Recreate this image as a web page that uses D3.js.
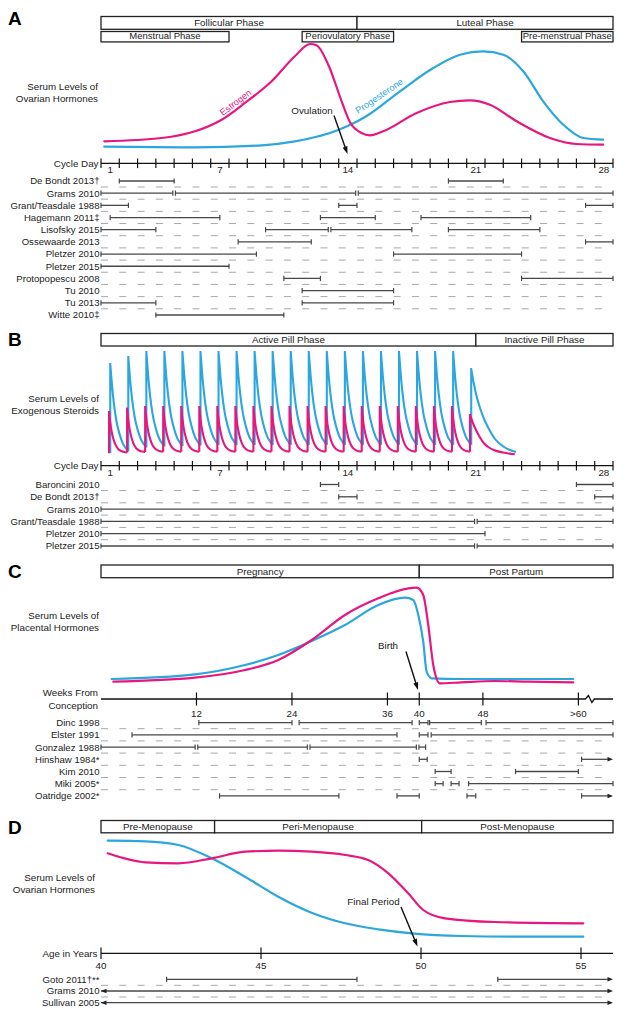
<!DOCTYPE html>
<html><head><meta charset="utf-8">
<script src="https://cdn.jsdelivr.net/npm/d3@7"></script>
<style>
body{margin:0;background:#fff}
text{font-family:"Liberation Sans",Arial,Helvetica,sans-serif;fill:#222}
</style></head>
<body><svg id="chart" width="623" height="1016"></svg>
<script>
// ---------------- DATA ----------------
const cycleDayLabels = [1, 7, 14, 21, 28];
const weekTicks = [12, 24, 36, 40, 48, 60];
const weekTickLabels = ["12", "24", "36", "40", "48", ">60"];
const ageTicks = [40, 45, 50, 55];

// Panel A : menstrual cycle (day units 0..28)
const phasesA1 = [["Follicular Phase", 0, 14], ["Luteal Phase", 14, 28]];
const phasesA2 = [["Menstrual Phase", 0, 7], ["Periovulatory Phase", 11, 16], ["Pre-menstrual Phase", 23, 28]];
const estrogenA_day = [0.18, 3.32, 5.14, 6.6, 7.87, 9.33, 10.6, 11.43, 11.79, 12.43, 13.16, 13.61, 14.25, 14.71, 15.43, 17.26, 19.08, 20.17, 21.27, 22.73, 24.55, 26.0, 27.46];
const estrogenA_lvl = [8.7, 12, 18.7, 30.3, 47, 68.7, 93.7, 106, 104.7, 85.3, 48.7, 28, 17, 14.7, 18.7, 37, 48, 49.7, 45.3, 28.7, 12, 6, 5.3];
const progesteroneA_day = [0.18, 5.14, 8.79, 10.6, 11.5, 12.43, 13.61, 14.53, 16.35, 18.17, 19.63, 20.9, 22.0, 23.09, 24.18, 25.28, 26.37, 27.46];
const progesteroneA_lvl = [3.3, 2.7, 4.7, 8.7, 12, 16.5, 25, 34, 58.7, 82, 95.3, 98.7, 95.3, 78.7, 48.7, 25.3, 12, 10.3];
const studiesA = ["De Bondt 2013†", "Grams 2010", "Grant/Teasdale 1988", "Hagemann 2011‡", "Lisofsky 2015", "Ossewaarde 2013", "Pletzer 2010", "Pletzer 2015", "Protopopescu 2008", "Tu 2010", "Tu 2013", "Witte 2010‡"];
const rangesA = [
  [[1, 4], [19, 22]],
  [[0, 4], [4, 14], [14, 28]],
  [[0, 1.5], [13, 14], [26.5, 28]],
  [[0.5, 6.5], [12, 15], [17.5, 23.5]],
  [[0, 3], [9, 12.5], [12.5, 17], [19, 24]],
  [[7.5, 11.5], [26.5, 28]],
  [[0, 8.5], [16, 23]],
  [[0, 7]],
  [[10, 12], [23, 28]],
  [[11, 16]],
  [[0, 3], [11, 16]],
  [[3, 10]]
];

// Panel B : oral contraceptive cycle
const phasesB = [["Active Pill Phase", 0, 20.5], ["Inactive Pill Phase", 20.5, 28]];
const pillDays = [1, 2, 3, 4, 5, 6, 7, 8, 9, 10, 11, 12, 13, 14, 15, 16, 17, 18, 19, 20, 21];
const progestinPeaksB = [91, 98, 103, 103, 103, 103, 103, 103, 103, 103, 103, 103, 103, 103, 103, 103, 103, 103, 103, 103, 86];
const progestinTroughsB = [2, 3.5, 7.5, 8.5, 9, 9.5, 10, 10, 10, 10, 10, 10, 10, 10, 10, 10, 10, 10, 10, 10, 10];
const estrogenPeaksB = [43, 46.5, 48, 48, 48, 48, 48, 48, 48, 48, 48, 48, 48, 48, 48, 48, 48, 48, 48, 48, 40];
const estrogenTroughsB = [1.7, 2.5, 3, 3.3, 3.3, 3.3, 3.3, 3.3, 3.3, 3.3, 3.3, 3.3, 3.3, 3.3, 3.3, 3.3, 3.3, 3.3, 3.3, 3.3, 3.3];
const decayFrac = [0, 0.1, 0.2, 0.35, 0.5, 0.7, 0.85, 1];
const progestinDecay = [1, 0.75, 0.55, 0.34, 0.21, 0.09, 0.04, 0];
const estrogenDecay = [1, 0.63, 0.4, 0.2, 0.09, 0.03, 0.01, 0];
const washoutDays = [0, 0.25, 0.5, 0.75, 1, 1.3, 1.8, 2.45];
const progestinWashout = [86, 62, 46, 34, 25, 16, 8, 3];
const estrogenWashout = [40, 28, 19, 12, 8, 5, 2.5, 0.7];
const studiesB = ["Baroncini 2010", "De Bondt 2013†", "Grams 2010", "Grant/Teasdale 1988", "Pletzer 2010", "Pletzer 2015"];
const rangesB = [
  [[12, 13], [26, 28]],
  [[13, 14], [27, 28]],
  [[0, 28]],
  [[0, 20.5], [20.5, 28]],
  [[0, 21]],
  [[0, 20.5], [20.5, 28]]
];

// Panel C : pregnancy (weeks from conception)
const phasesC = [["Pregnancy", 0, 40], ["Post Partum", 40, 64.35]];
const estrogenC_wk = [1.55, 11.81, 18.1, 22.28, 26.48, 30.66, 34.85, 38.62, 39.68, 40.5, 41.13, 41.76, 42.6, 45.33, 49.52, 53.7, 59.36];
const estrogenC_lvl = [8.3, 12.3, 20, 30, 50, 75, 91.7, 101.7, 102.3, 95, 65, 25, 6.7, 7.7, 9, 8.3, 7.7];
const progesteroneC_wk = [1.34, 11.81, 18.1, 22.28, 26.48, 30.66, 34.85, 38.2, 39.25, 39.88, 40.5, 40.93, 41.56, 45.33, 59.36];
const progesteroneC_lvl = [11, 15.7, 25, 35, 49, 65, 85, 92.3, 90, 75, 48.3, 18.3, 11.7, 11, 11];
const studiesC = ["Dinc 1998", "Elster 1991", "Gonzalez 1988", "Hinshaw 1984*", "Kim 2010", "Miki 2005*", "Oatridge 2002*"];
const rangesC = [
  [[12.3, 24], [24.9, 39.1], [40, 41.1], [41.3, 47.8], [48.4, 64.35]],
  [[3.9, 37.2], [40, 41.1], [41.5, 64.35]],
  [[0, 12], [12, 26.1], [26.1, 39.8], [39.8, 40.8]],
  [[40, 41], [60.4, 64.35, "→"]],
  [[42, 44], [52.1, 60]],
  [[42, 43], [44, 45], [46.2, 64.35]],
  [[14.9, 29.9], [37.2, 40], [46, 47.1], [60.4, 64.35, "→"]]
];

// Panel D : menopause transition (age in years)
const phasesD = [["Pre-Menopause", 40, 43.55], ["Peri-Menopause", 43.55, 50.02], ["Post-Menopause", 50.02, 56]];
const estrogenD_age = [40.21, 41.38, 42.42, 43.46, 44.5, 45.54, 46.58, 47.63, 48.35, 48.98, 49.6, 50.07, 50.75, 52.31, 55.07];
const estrogenD_lvl = [91.7, 82.7, 81.7, 86.7, 93.3, 94.3, 93.3, 90, 85, 71.7, 51.7, 35, 26.7, 23, 21.7];
const progesteroneD_age = [40.21, 41.38, 42.42, 43.46, 44.5, 45.54, 46.58, 47.63, 48.67, 49.71, 51.27, 53.35, 55.07];
const progesteroneD_lvl = [104.3, 103.7, 100, 86.7, 68.3, 48.3, 32.3, 21.7, 15.7, 11.7, 9, 8.3, 8.3];
const studiesD = ["Goto 2011†**", "Grams 2010", "Sullivan 2005"];
const rangesD = [
  [[42.05, 48], [52.4, 56, "→"]],
  [[40, 56, "↔"]],
  [[40, 56, "↔"]]
];

// ---------------- DRAWING ----------------
const MAG = "#e6177f", BLU = "#2ba6de", ROW = "#474747";
const svg = d3.select("#chart");
const L = 101, R = 613;
const xDay = d3.scaleLinear().domain([0, 28]).range([L, R]);
const xWeek = d3.scaleLinear().domain([0, 64.35]).range([L, R]);
const xAge = d3.scaleLinear().domain([40, 56]).range([L, R]);
const yA = d3.scaleLinear().domain([0, 100]).range([150, 50]);
const yB = d3.scaleLinear().domain([0, 100]).range([455, 355]);
const yC = d3.scaleLinear().domain([0, 100]).range([690, 590]);
const yD = d3.scaleLinear().domain([0, 100]).range([945, 845]);

function text(x, y, s, o = {}) {
  const t = svg.append("text").attr("x", x).attr("y", y).text(s)
    .attr("font-size", o.fs || 9.6).attr("text-anchor", o.anchor || "start");
  if (o.fill) t.style("fill", o.fill);
  if (o.bold) t.attr("font-weight", "bold");
  if (o.rot !== undefined) t.attr("transform", `rotate(${o.rot},${x},${y})`);
  return t;
}
function panelLetter(s, y) { text(8, y, s, {fs: 19, bold: true}).style("fill", "#000"); }
function boxes(list, x, y, h, fs) {
  list.forEach(([name, a, b]) => {
    svg.append("rect").attr("x", x(a)).attr("y", y).attr("width", x(b) - x(a)).attr("height", h)
      .attr("fill", "#fff").attr("stroke", "#222").attr("stroke-width", 1.3);
    text((x(a) + x(b)) / 2, y + h - 3, name, {fs: fs, anchor: "middle"});
  });
}
function sideLabel(lines, x, y0) {
  lines.forEach((s, i) => text(x, y0 + i * 12, s, {anchor: "end", fs: 9.8}));
}
function curve(xs, ys, xScale, yScale, color) {
  const pts = xs.map((v, i) => [xScale(v), yScale(ys[i])]);
  svg.append("path").attr("d", d3.line().curve(d3.curveMonotoneX)(pts))
    .attr("fill", "none").attr("stroke", color).attr("stroke-width", 2.2).attr("stroke-linecap", "round");
}
function arrowHead(x1, y1, x2, y2, len, w, color) {
  const a = Math.atan2(y2 - y1, x2 - x1);
  const bx = x2 - len * Math.cos(a), by = y2 - len * Math.sin(a);
  const px = Math.sin(a) * w / 2, py = -Math.cos(a) * w / 2;
  svg.append("path").attr("d", `M${x2},${y2}L${bx + px},${by + py}L${bx - px},${by - py}Z`).attr("fill", color || "#111");
}
function annotArrow(x1, y1, x2, y2) {
  const a = Math.atan2(y2 - y1, x2 - x1);
  svg.append("line").attr("x1", x1).attr("y1", y1).attr("x2", x2 - 5 * Math.cos(a)).attr("y2", y2 - 5 * Math.sin(a))
    .attr("stroke", "#111").attr("stroke-width", 1.4);
  arrowHead(x1, y1, x2, y2, 7.5, 5);
}
function rows(names, ranges, x, y0, dy, nDash) {
  names.forEach((n, i) => {
    const y = y0 + i * dy;
    text(99.5, y + 3.4, n, {anchor: "end", fs: 9.6});
    if (i < nDash) {
      svg.append("line").attr("x1", L).attr("x2", R).attr("y1", y + 6).attr("y2", y + 6)
        .attr("stroke", "#a8a8a8").attr("stroke-width", 1).attr("stroke-dasharray", "7,11.29");
    }
    const segs = ranges[i];
    segs.forEach((s, j) => {
      let a = x(s[0]), b = x(s[1]);
      if (j > 0 && s[0] === segs[j - 1][1]) a += 1.3;
      if (j < segs.length - 1 && s[1] === segs[j + 1][0]) b -= 1.3;
      const kind = s[2];
      svg.append("line").attr("x1", a).attr("x2", kind ? b - 3 : b).attr("y1", y).attr("y2", y)
        .attr("stroke", ROW).attr("stroke-width", 1.3);
      if (kind === "↔") { arrowHead(b, y, a, y, 5.5, 4.5, "#222"); }
      else svg.append("line").attr("x1", a).attr("x2", a).attr("y1", y - 2.6).attr("y2", y + 2.6).attr("stroke", ROW).attr("stroke-width", 1.2);
      if (kind) arrowHead(a, y, b, y, 5.5, 4.5, "#222");
      else svg.append("line").attr("x1", b).attr("x2", b).attr("y1", y - 2.6).attr("y2", y + 2.6).attr("stroke", ROW).attr("stroke-width", 1.2);
    });
  });
}
function dayAxis(y) {
  svg.append("line").attr("x1", L).attr("x2", R).attr("y1", y).attr("y2", y).attr("stroke", "#111").attr("stroke-width", 1.3);
  d3.range(0, 29).forEach(u => svg.append("line").attr("x1", xDay(u)).attr("x2", xDay(u))
    .attr("y1", y - 4.8).attr("y2", y + 4.8).attr("stroke", "#111").attr("stroke-width", 1.2));
  cycleDayLabels.forEach(d => text(xDay(d - 0.5), y + 9.8, String(d), {anchor: "middle", fs: 9.8}));
  text(98.5, y + 3.5, "Cycle Day", {anchor: "end", fs: 9.8});
}

// ===== Panel A =====
panelLetter("A", 25);
boxes(phasesA1, xDay, 16.5, 12.8, 9.8);
boxes(phasesA2, xDay, 31.5, 10.4, 9.5);
sideLabel(["Serum Levels of", "Ovarian Hormones"], 98, 90);
curve(progesteroneA_day, progesteroneA_lvl, xDay, yA, BLU);
curve(estrogenA_day, estrogenA_lvl, xDay, yA, MAG);
text(237.5, 105, "Estrogen", {anchor: "middle", fs: 9.2, fill: MAG, rot: -37});
text(381, 98.5, "Progesterone", {anchor: "middle", fs: 9.2, fill: BLU, rot: -34});
text(312, 113.5, "Ovulation", {anchor: "middle", fs: 9.8});
annotArrow(334, 115.5, 347.5, 154);
dayAxis(163.3);
rows(studiesA, rangesA, xDay, 181, 12.18, 11);

// ===== Panel B =====
panelLetter("B", 345.5);
boxes(phasesB, xDay, 333.5, 12.5, 9.8);
sideLabel(["Serum Levels of", "Exogenous Steroids"], 99, 401.8);
function pillPath(peaks, troughs, shape, washLvl, dx) {
  const ln = d3.line().curve(d3.curveMonotoneX);
  const pu = d => 0.44 + (d - 1) * 0.987;
  let d = "";
  pillDays.forEach((day, k) => {
    const u0 = pu(day), x0 = xDay(u0) + dx;
    d += `M${x0},${yB(troughs[k])}L${x0},${yB(peaks[k])}`;
    let pts;
    if (k < pillDays.length - 1) {
      const u1 = pu(pillDays[k + 1]), nxt = troughs[k + 1];
      pts = decayFrac.map((f, i) => [xDay(u0 + f * (u1 - u0)) + dx, yB(nxt + (peaks[k] - nxt) * shape[i])]);
    } else {
      pts = washoutDays.map((t, i) => [xDay(u0 + t) + dx, yB(washLvl[i])]);
    }
    d += ln(pts).replace(/^M/, "L");
  });
  return d;
}
svg.append("path").attr("d", pillPath(progestinPeaksB, progestinTroughsB, progestinDecay, progestinWashout, 1.2))
  .attr("fill", "none").attr("stroke", BLU).attr("stroke-width", 2.1);
svg.append("path").attr("d", pillPath(estrogenPeaksB, estrogenTroughsB, estrogenDecay, estrogenWashout, 0))
  .attr("fill", "none").attr("stroke", MAG).attr("stroke-width", 2.1);
dayAxis(465.7);
rows(studiesB, rangesB, xDay, 484.5, 12.3, 5);

// ===== Panel C =====
panelLetter("C", 577.5);
boxes(phasesC, xWeek, 565, 12.7, 9.8);
sideLabel(["Serum Levels of", "Placental Hormones"], 99, 619.2);
curve(progesteroneC_wk, progesteroneC_lvl, xWeek, yC, BLU);
curve(estrogenC_wk, estrogenC_lvl, xWeek, yC, MAG);
text(388, 649, "Birth", {anchor: "middle", fs: 9.8});
annotArrow(406, 651.5, 418, 690);
(function () {
  const y = 699, xb = xWeek(60) + 7;
  svg.append("path").attr("d", `M${L},${y}H${xb}L${xb + 3},${y - 3.5}L${xb + 6.5},${y + 3.5}L${xb + 9},${y}H${R}`)
    .attr("fill", "none").attr("stroke", "#111").attr("stroke-width", 1.3);
  weekTicks.forEach((w, i) => {
    svg.append("line").attr("x1", xWeek(w)).attr("x2", xWeek(w)).attr("y1", y - 6.5).attr("y2", y + 6.5)
      .attr("stroke", "#111").attr("stroke-width", 1.2);
    text(xWeek(w), y + 18, weekTickLabels[i], {anchor: "middle", fs: 9.8});
  });
  text(98, 696, "Weeks From", {anchor: "end", fs: 9.8});
  text(98, 708.5, "Conception", {anchor: "end", fs: 9.8});
})();
rows(studiesC, rangesC, xWeek, 722.7, 12.2, 6);

// ===== Panel D =====
panelLetter("D", 833.5);
boxes(phasesD, xAge, 820.5, 12.3, 9.8);
sideLabel(["Serum Levels of", "Ovarian Hormones"], 95, 880.5);
curve(progesteroneD_age, progesteroneD_lvl, xAge, yD, BLU);
curve(estrogenD_age, estrogenD_lvl, xAge, yD, MAG);
text(373.5, 905, "Final Period", {anchor: "middle", fs: 9.8});
annotArrow(401, 907, 417.5, 946.5);
(function () {
  const y = 953.3;
  svg.append("line").attr("x1", L).attr("x2", R).attr("y1", y).attr("y2", y).attr("stroke", "#111").attr("stroke-width", 1.3);
  ageTicks.forEach(a => {
    svg.append("line").attr("x1", xAge(a)).attr("x2", xAge(a)).attr("y1", y - 5.8).attr("y2", y + 5.8)
      .attr("stroke", "#111").attr("stroke-width", 1.2);
    text(xAge(a), y + 15.5, String(a), {anchor: "middle", fs: 9.8});
  });
  text(97.5, y + 3.5, "Age in Years", {anchor: "end", fs: 9.8});
})();
rows(studiesD, rangesD, xAge, 979.3, 11.7, 2);
</script>
</body></html>
